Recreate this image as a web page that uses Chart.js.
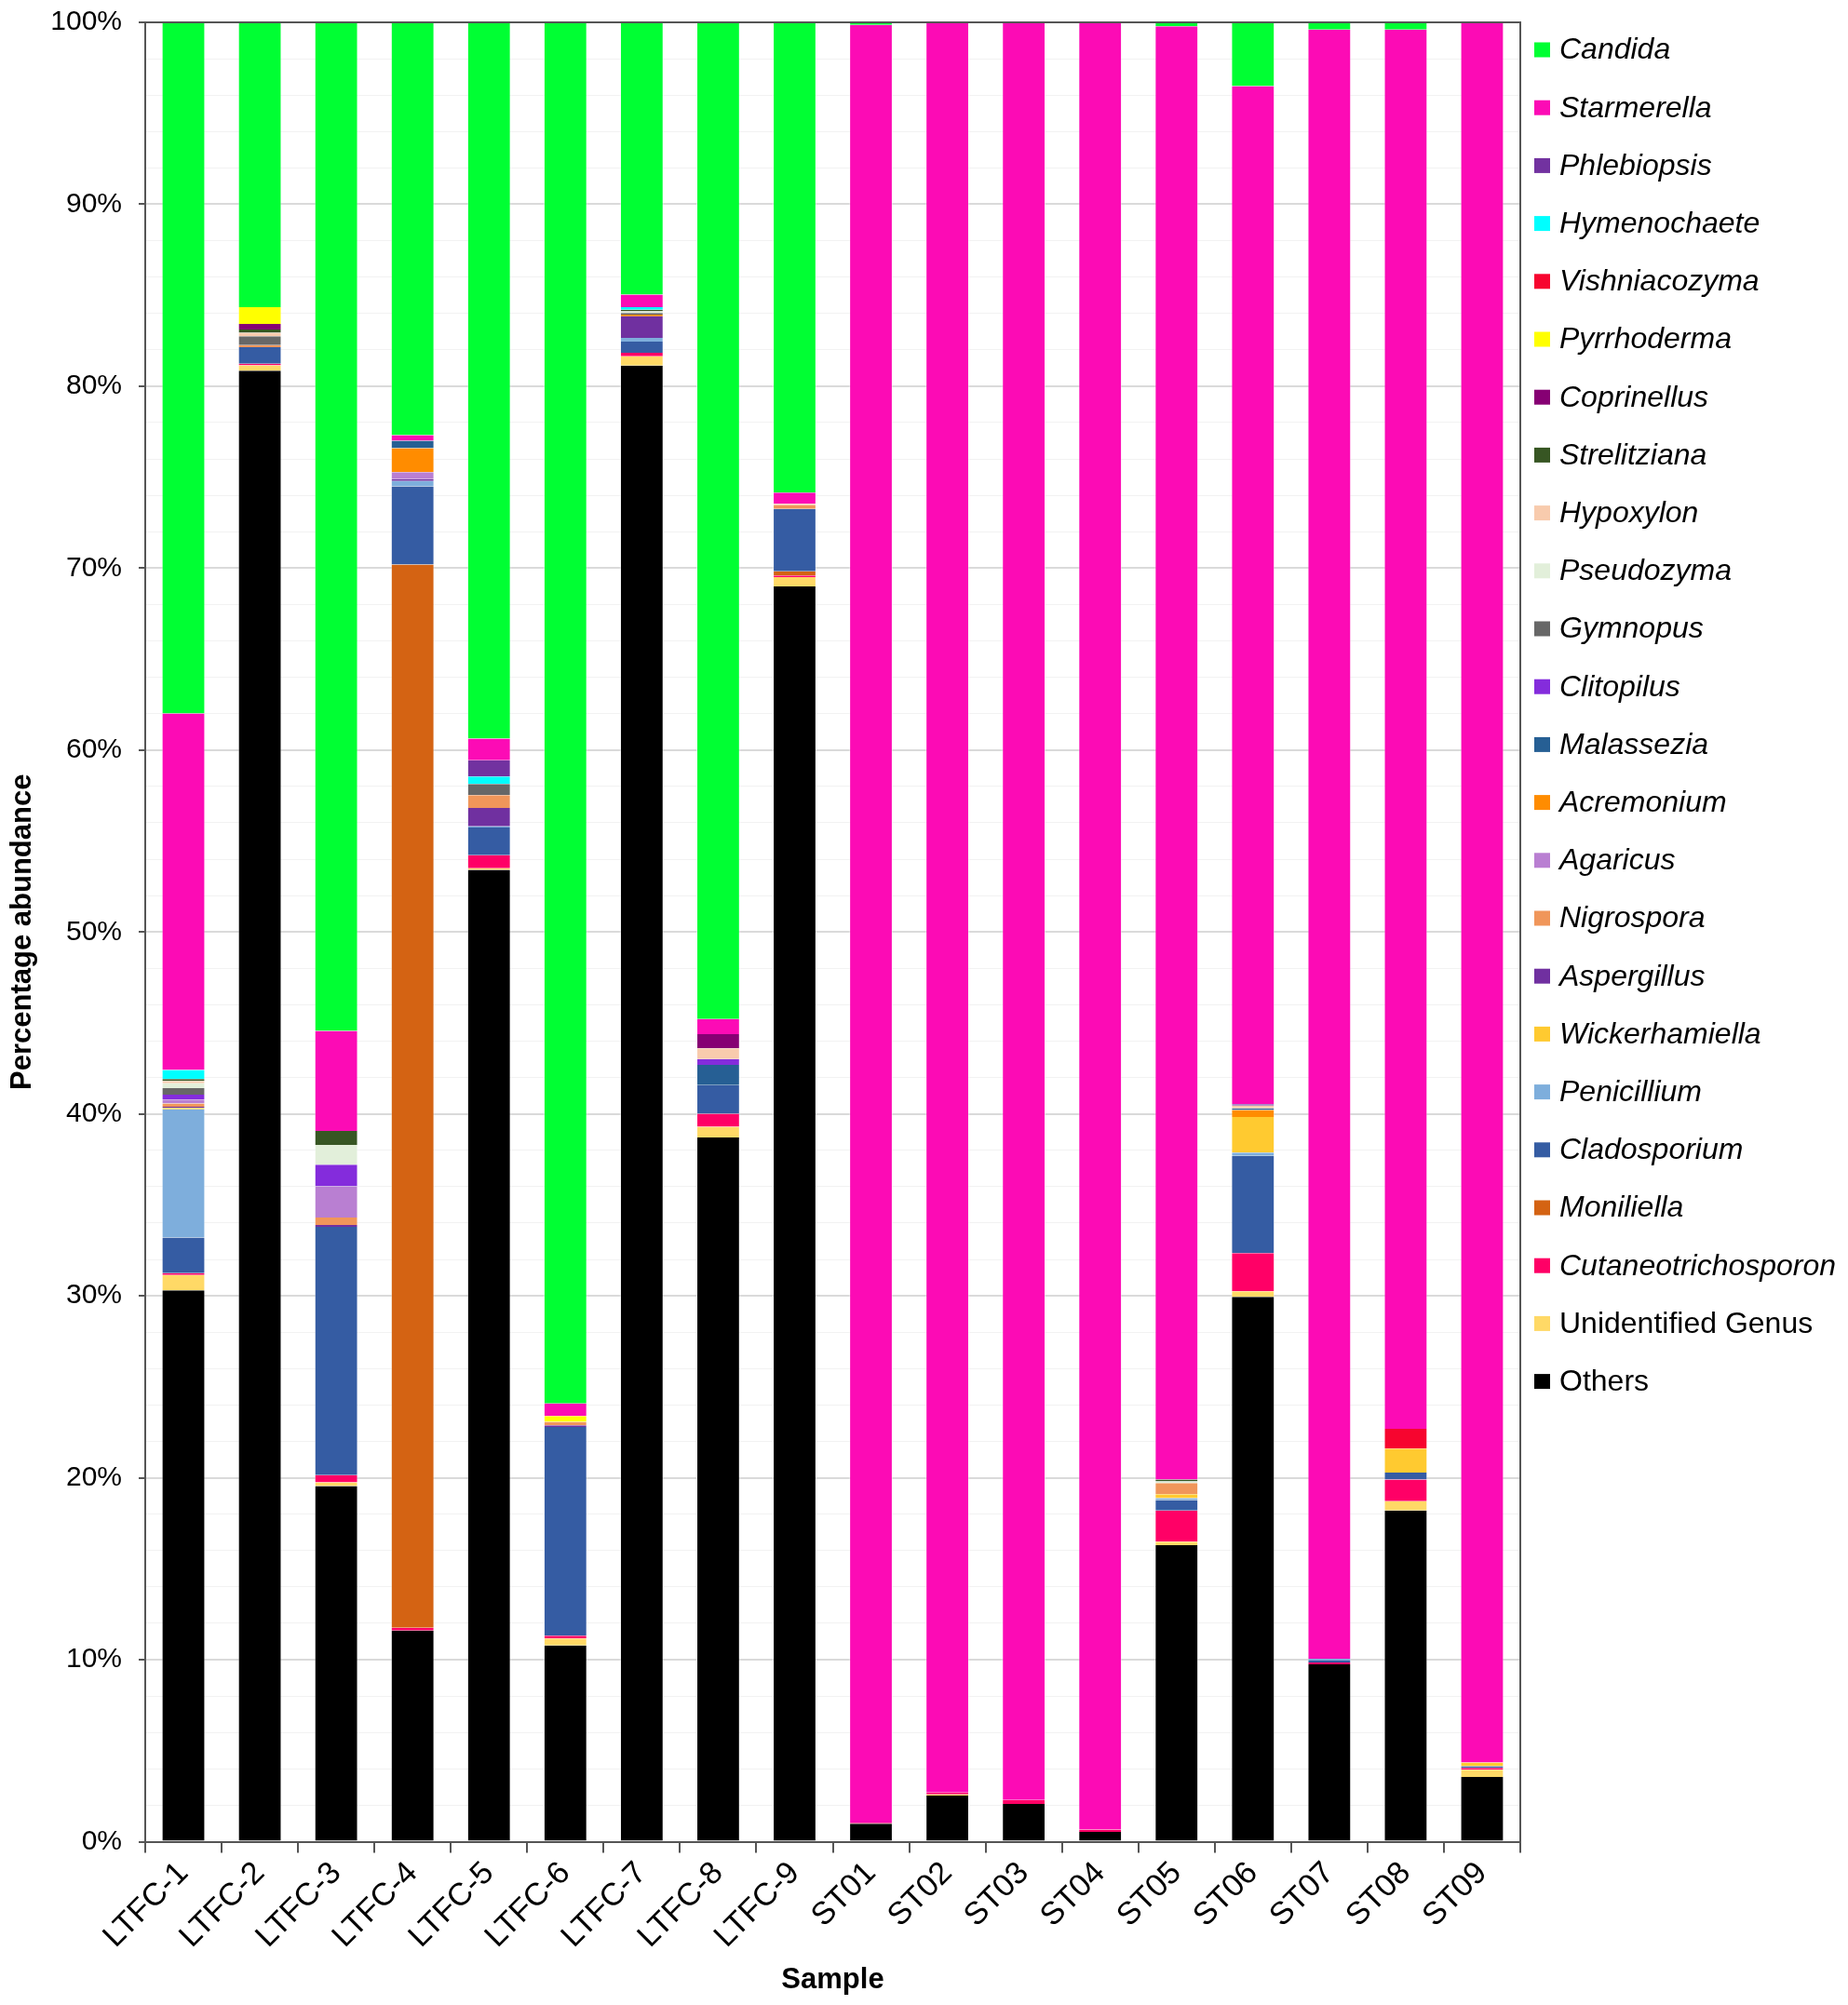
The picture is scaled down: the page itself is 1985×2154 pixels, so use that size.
<!DOCTYPE html>
<html>
<head>
<meta charset="utf-8">
<script src="https://cdn.jsdelivr.net/npm/chart.js@4.4.1/dist/chart.umd.min.js"></script>
<style>
html,body{margin:0;padding:0;background:#fff;}
canvas{display:block;}
</style>
</head>
<body>
<canvas id="c" width="1985" height="2154"></canvas>
<script>
const samples = ['LTFC-1','LTFC-2','LTFC-3','LTFC-4','LTFC-5','LTFC-6','LTFC-7','LTFC-8','LTFC-9','ST01','ST02','ST03','ST04','ST05','ST06','ST07','ST08','ST09'];
const yTickLabels = ['0%','10%','20%','30%','40%','50%','60%','70%','80%','90%','100%'];

// values in percent, bottom of stack first
const others         = [30.3, 80.85, 19.55, 11.6, 53.41, 10.78, 81.13, 38.71, 69.0, 0.98, 2.53, 2.07, 0.54, 16.29, 29.94, 9.75, 18.2, 3.56];
const unidentified   = [0.85, 0.29, 0.2, 0, 0.09, 0.39, 0.51, 0.58, 0.51, 0, 0.07, 0, 0, 0.2, 0.31, 0, 0.51, 0.39];
const cutaneo        = [0.1, 0.1, 0.4, 0.15, 0.72, 0.15, 0.2, 0.72, 0.09, 0.05, 0.1, 0.22, 0.12, 1.71, 2.1, 0.1, 1.19, 0.1];
const moniliella     = [0, 0, 0, 58.45, 0, 0, 0, 0, 0.22, 0, 0, 0, 0, 0, 0, 0, 0, 0];
const cladosporium   = [1.95, 0.9, 13.64, 4.3, 1.52, 11.47, 0.61, 1.57, 3.43, 0, 0, 0, 0, 0.58, 5.34, 0.1, 0.39, 0.1];
const penicillium    = [7.05, 0, 0, 0.29, 0.07, 0, 0.2, 0, 0, 0, 0, 0, 0, 0.1, 0.19, 0.1, 0, 0];
const wickerhamiella = [0.08, 0, 0, 0, 0, 0, 0, 0, 0, 0, 0, 0, 0, 0.22, 1.95, 0, 1.31, 0.2];
const aspergillus    = [0.07, 0, 0.1, 0.1, 1.01, 0.09, 1.18, 0, 0, 0, 0, 0, 0, 0, 0, 0, 0, 0];
const nigrospora     = [0.17, 0.12, 0.41, 0, 0.7, 0.19, 0.05, 0, 0.2, 0, 0, 0, 0, 0.61, 0, 0, 0, 0];
const agaricus       = [0.22, 0, 1.72, 0.39, 0, 0, 0, 0, 0, 0, 0, 0, 0, 0, 0, 0, 0, 0];
const acremonium     = [0, 0, 0, 1.31, 0, 0, 0.05, 0, 0, 0, 0, 0, 0, 0, 0.39, 0, 0, 0];
const malassezia     = [0, 0, 0, 0.41, 0, 0, 0, 1.11, 0, 0, 0, 0, 0, 0, 0.09, 0, 0, 0];
const clitopilus     = [0.27, 0, 1.19, 0, 0, 0, 0, 0.32, 0, 0, 0, 0, 0, 0, 0, 0, 0, 0];
const gymnopus       = [0.36, 0.48, 0, 0, 0.61, 0, 0.1, 0, 0, 0, 0, 0, 0, 0, 0, 0, 0, 0];
const pseudozyma     = [0.27, 0, 1.09, 0, 0, 0, 0.08, 0, 0, 0, 0, 0, 0, 0.09, 0, 0, 0, 0];
const hypoxylon      = [0.12, 0.2, 0, 0, 0, 0, 0, 0.6, 0.09, 0, 0, 0, 0, 0, 0.15, 0, 0, 0];
const strelitziana   = [0.1, 0.17, 0.77, 0, 0, 0, 0.09, 0, 0, 0, 0, 0, 0, 0.1, 0, 0, 0, 0];
const coprinellus    = [0, 0.31, 0, 0, 0, 0, 0, 0.77, 0, 0, 0, 0, 0, 0, 0, 0, 0, 0];
const pyrrhoderma    = [0, 0.92, 0, 0, 0, 0.32, 0, 0, 0, 0, 0, 0, 0, 0, 0, 0, 0, 0];
const vishniacozyma  = [0, 0, 0, 0, 0, 0, 0, 0, 0, 0, 0, 0, 0, 0, 0, 0, 1.09, 0];
const hymenochaete   = [0.5, 0, 0, 0, 0.41, 0, 0.14, 0, 0, 0, 0, 0, 0, 0, 0, 0, 0, 0];
const phlebiopsis    = [0, 0, 0, 0, 0.9, 0, 0, 0, 0, 0, 0, 0, 0, 0, 0.07, 0, 0, 0];
const starmerella    = [19.6, 0, 5.49, 0.31, 1.19, 0.7, 0.7, 0.84, 0.61, 98.83, 97.3, 97.71, 99.34, 79.88, 55.96, 89.55, 76.91, 95.65];
const candida        = [38.0, 15.66, 55.44, 22.69, 39.37, 75.91, 14.96, 54.78, 25.85, 0.14, 0, 0, 0, 0.22, 3.51, 0.4, 0.4, 0];

const FAMILY = '"Liberation Sans", Arial, Helvetica, sans-serif';

const series = [
  ['Others', others, '#000000', false],
  ['Unidentified Genus', unidentified, '#FFD966', false],
  ['Cutaneotrichosporon', cutaneo, '#FF0066', true],
  ['Moniliella', moniliella, '#D46313', true],
  ['Cladosporium', cladosporium, '#355CA3', true],
  ['Penicillium', penicillium, '#7EAEDC', true],
  ['Wickerhamiella', wickerhamiella, '#FFCA30', true],
  ['Aspergillus', aspergillus, '#7030A0', true],
  ['Nigrospora', nigrospora, '#F0965A', true],
  ['Agaricus', agaricus, '#B97FD2', true],
  ['Acremonium', acremonium, '#FF8C00', true],
  ['Malassezia', malassezia, '#265F94', true],
  ['Clitopilus', clitopilus, '#842CDC', true],
  ['Gymnopus', gymnopus, '#676767', true],
  ['Pseudozyma', pseudozyma, '#E2EFDA', true],
  ['Hypoxylon', hypoxylon, '#F8CBAD', true],
  ['Strelitziana', strelitziana, '#375623', true],
  ['Coprinellus', coprinellus, '#860073', true],
  ['Pyrrhoderma', pyrrhoderma, '#FFFF00', true],
  ['Vishniacozyma', vishniacozyma, '#F7052F', true],
  ['Hymenochaete', hymenochaete, '#00FFFF', true],
  ['Phlebiopsis', phlebiopsis, '#7232A0', true],
  ['Starmerella', starmerella, '#FC0BB5', true],
  ['Candida', candida, '#00FF33', true]
];

const datasets = series.map(([label, data, color, italic]) => ({
  label, data,
  backgroundColor: color,
  borderColor: 'rgba(255,255,255,0.45)',
  borderWidth: {left: 1, right: 1, top: 0, bottom: 0},
  borderSkipped: false,
  italicLabel: italic,
  barPercentage: 0.57,
  categoryPercentage: 1.0
}));

const frame = {
  id: 'frame',
  afterDatasetsDraw(chart) {
    const {ctx, chartArea: a} = chart;
    ctx.save();
    ctx.strokeStyle = '#555';
    ctx.lineWidth = 2;
    ctx.beginPath();
    ctx.moveTo(a.left, a.top);
    ctx.lineTo(a.right, a.top);
    ctx.lineTo(a.right, a.bottom);
    ctx.stroke();
    ctx.restore();
  }
};

const sideLegend = {
  id: 'sideLegend',
  afterDraw(chart) {
    const {ctx, chartArea: a} = chart;
    const ds = chart.data.datasets;
    const n = ds.length;
    ctx.save();
    ctx.textAlign = 'left';
    ctx.textBaseline = 'middle';
    for (let k = 0; k < n; k++) {
      const d = ds[n - 1 - k];
      const cy = a.top + 29.5 + k * 62.2;
      ctx.fillStyle = d.backgroundColor;
      ctx.fillRect(a.right + 15, cy - 8, 17, 16);
      ctx.fillStyle = '#000';
      ctx.font = (d.italicLabel ? 'italic ' : '') + '32px ' + FAMILY;
      ctx.fillText(d.label, a.right + 42, cy + 1);
    }
    ctx.restore();
  }
};

new Chart(document.getElementById('c'), {
  type: 'bar',
  data: {labels: samples, datasets},
  plugins: [frame, sideLegend],
  options: {
    responsive: false,
    animation: false,
    devicePixelRatio: 1,
    layout: {padding: {top: 24, right: 352, left: 0, bottom: 0}},
    plugins: {legend: {display: false}, tooltip: {enabled: false}},
    scales: {
      x: {
        stacked: true,
        grid: {offset: true, drawOnChartArea: false, tickLength: 12, color: '#555', lineWidth: 2},
        border: {color: '#555', width: 2},
        ticks: {font: {size: 34, family: FAMILY}, color: '#000', minRotation: 45, maxRotation: 45, padding: 2, autoSkip: false},
        title: {display: true, text: 'Sample', color: '#000', font: {size: 31, weight: 'bold', family: FAMILY}, padding: {top: 0, bottom: 8}},
        afterFit(scale) { scale.height = 175.5; }
      },
      y: {
        stacked: true,
        min: 0, max: 100,
        ticks: {
          stepSize: 2,
          autoSkip: false,
          color: '#000',
          padding: 18,
          font: {size: 30, family: FAMILY},
          callback: (v) => (v % 10 === 0 ? yTickLabels[v / 10] : '')
        },
        grid: {
          color: (c) => (c.tick && c.tick.value % 10 === 0 ? '#dadada' : '#f2f2f2'),
          tickColor: (c) => (c.tick && c.tick.value % 10 === 0 ? '#555' : 'rgba(0,0,0,0)'),
          lineWidth: (c) => (c.tick && c.tick.value % 10 === 0 ? 2 : 1),
          tickLength: 7
        },
        border: {color: '#555', width: 2},
        title: {display: true, text: 'Percentage abundance', color: '#000', font: {size: 31, weight: 'bold', family: FAMILY}, padding: {top: 6, bottom: 0}},
        afterFit(scale) { scale.width = 156; scale.paddingTop = 0; scale.paddingBottom = 0; }
      }
    }
  }
});
</script>
</body>
</html>
